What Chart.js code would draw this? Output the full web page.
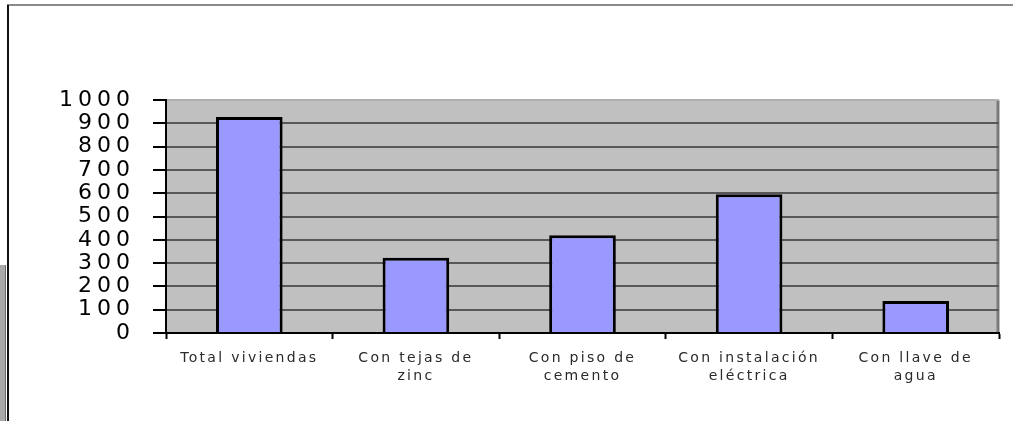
<!DOCTYPE html>
<html>
<head>
<meta charset="utf-8">
<script src="https://cdn.jsdelivr.net/npm/chart.js@4/dist/chart.umd.min.js"></script>
<style>
  html, body { margin: 0; padding: 0; background: #fff; }
  #wrap { position: relative; width: 1013px; height: 421px; overflow: hidden; }
  #topLine { position: absolute; left: 7px; top: 4px; width: 1006px; height: 2px; background: #8a8a8a; }
  #leftLine { position: absolute; left: 7px; top: 5px; width: 2px; height: 416px; background: #111; }
  #leftBlock { position: absolute; left: 0; top: 265px; width: 5px; height: 156px; background: #a8a8a8; border-right: 1px solid #6a6a6a; }
</style>
</head>
<body>
<div id="wrap">
  <canvas id="chart" width="1013" height="421"></canvas>
  <div id="topLine"></div>
  <div id="leftLine"></div>
  <div id="leftBlock"></div>
</div>
<script>
// categories and values
let categories = [
	'Total viviendas',
	['Con tejas de', 'zinc'],
	['Con piso de', 'cemento'],
	['Con instalación', 'eléctrica'],
	['Con llave de', 'agua']
];
let viviendas = [927, 323, 420, 596, 137];
let yTicks = [0, 100, 200, 300, 400, 500, 600, 700, 800, 900, 1000];

// gray plot background and the darker right edge
const plotBackground = {
	id: 'plotBackground',
	beforeDraw(chart){
		let ctx = chart.ctx;
		let a = chart.chartArea;
		ctx.save();
		ctx.fillStyle = '#c0c0c0';
		ctx.fillRect(a.left, a.top, a.right - a.left, a.bottom - a.top);
		ctx.strokeStyle = '#b0b0b0';
		ctx.lineWidth = 1;
		ctx.beginPath();
		ctx.moveTo(a.left, a.top + 0.5);
		ctx.lineTo(a.right, a.top + 0.5);
		ctx.stroke();
		ctx.strokeStyle = '#7a7a7a';
		ctx.lineWidth = 3;
		ctx.beginPath();
		ctx.moveTo(a.right - 1, a.top);
		ctx.lineTo(a.right - 1, a.bottom);
		ctx.stroke();
		ctx.restore();
		ctx.letterSpacing = '5px'; // wide y labels
	},
	afterDatasetsDraw(chart){
		chart.ctx.letterSpacing = '2.3px'; // x labels are drawn after the bars
	},
	afterDraw(chart){
		chart.ctx.letterSpacing = '0px';
	}
};

let ctx = document.getElementById('chart').getContext('2d');

new Chart(ctx, {
	type: 'bar',
	data: {
		labels: categories,
		datasets: [{
			label: 'Viviendas',
			data: viviendas,
			backgroundColor: '#9999ff',
			borderColor: '#000000',
			borderWidth: 3,
			barPercentage: 0.4,
			categoryPercentage: 1.0
		}]
	},
	options: {
		responsive: false,
		animation: false,
		layout: { padding: { top: 100, right: 14, left: 0, bottom: 0 } },
		plugins: {
			legend: { display: false },
			tooltip: { enabled: false }
		},
		scales: {
			x: {
				afterFit(scale){ scale.height = 88; },
				grid: {
					drawOnChartArea: false,
					tickLength: 6,
					tickColor: '#000',
					tickWidth: 2,
					offset: true
				},
				border: { color: '#000', width: 2 },
				ticks: {
					z: 1,
					color: '#2a2a2a',
					padding: 10,
					maxRotation: 0,
					autoSkip: false,
					font: { family: 'DejaVu Sans', size: 14, lineHeight: 1.3 }
				}
			},
			y: {
				min: 0,
				max: 1000,
				afterFit(scale){ scale.width = 166; },
				afterBuildTicks(scale){ scale.ticks = yTicks.map(v => ({ value: v })); },
				grid: {
					color: c => c.tick && c.tick.value === 1000 ? '#b0b0b0' : '#585858',
					lineWidth: 2,
					tickLength: 13,
					tickColor: '#000',
					tickWidth: 2
				},
				border: { color: '#000', width: 2 },
				ticks: {
					color: '#000',
					padding: 18,
					autoSkip: false,
					callback: v => String(v),
					font: { family: 'DejaVu Sans', size: 22, lineHeight: 1 }
				}
			}
		}
	},
	plugins: [plotBackground]
});
</script>
</body>
</html>
